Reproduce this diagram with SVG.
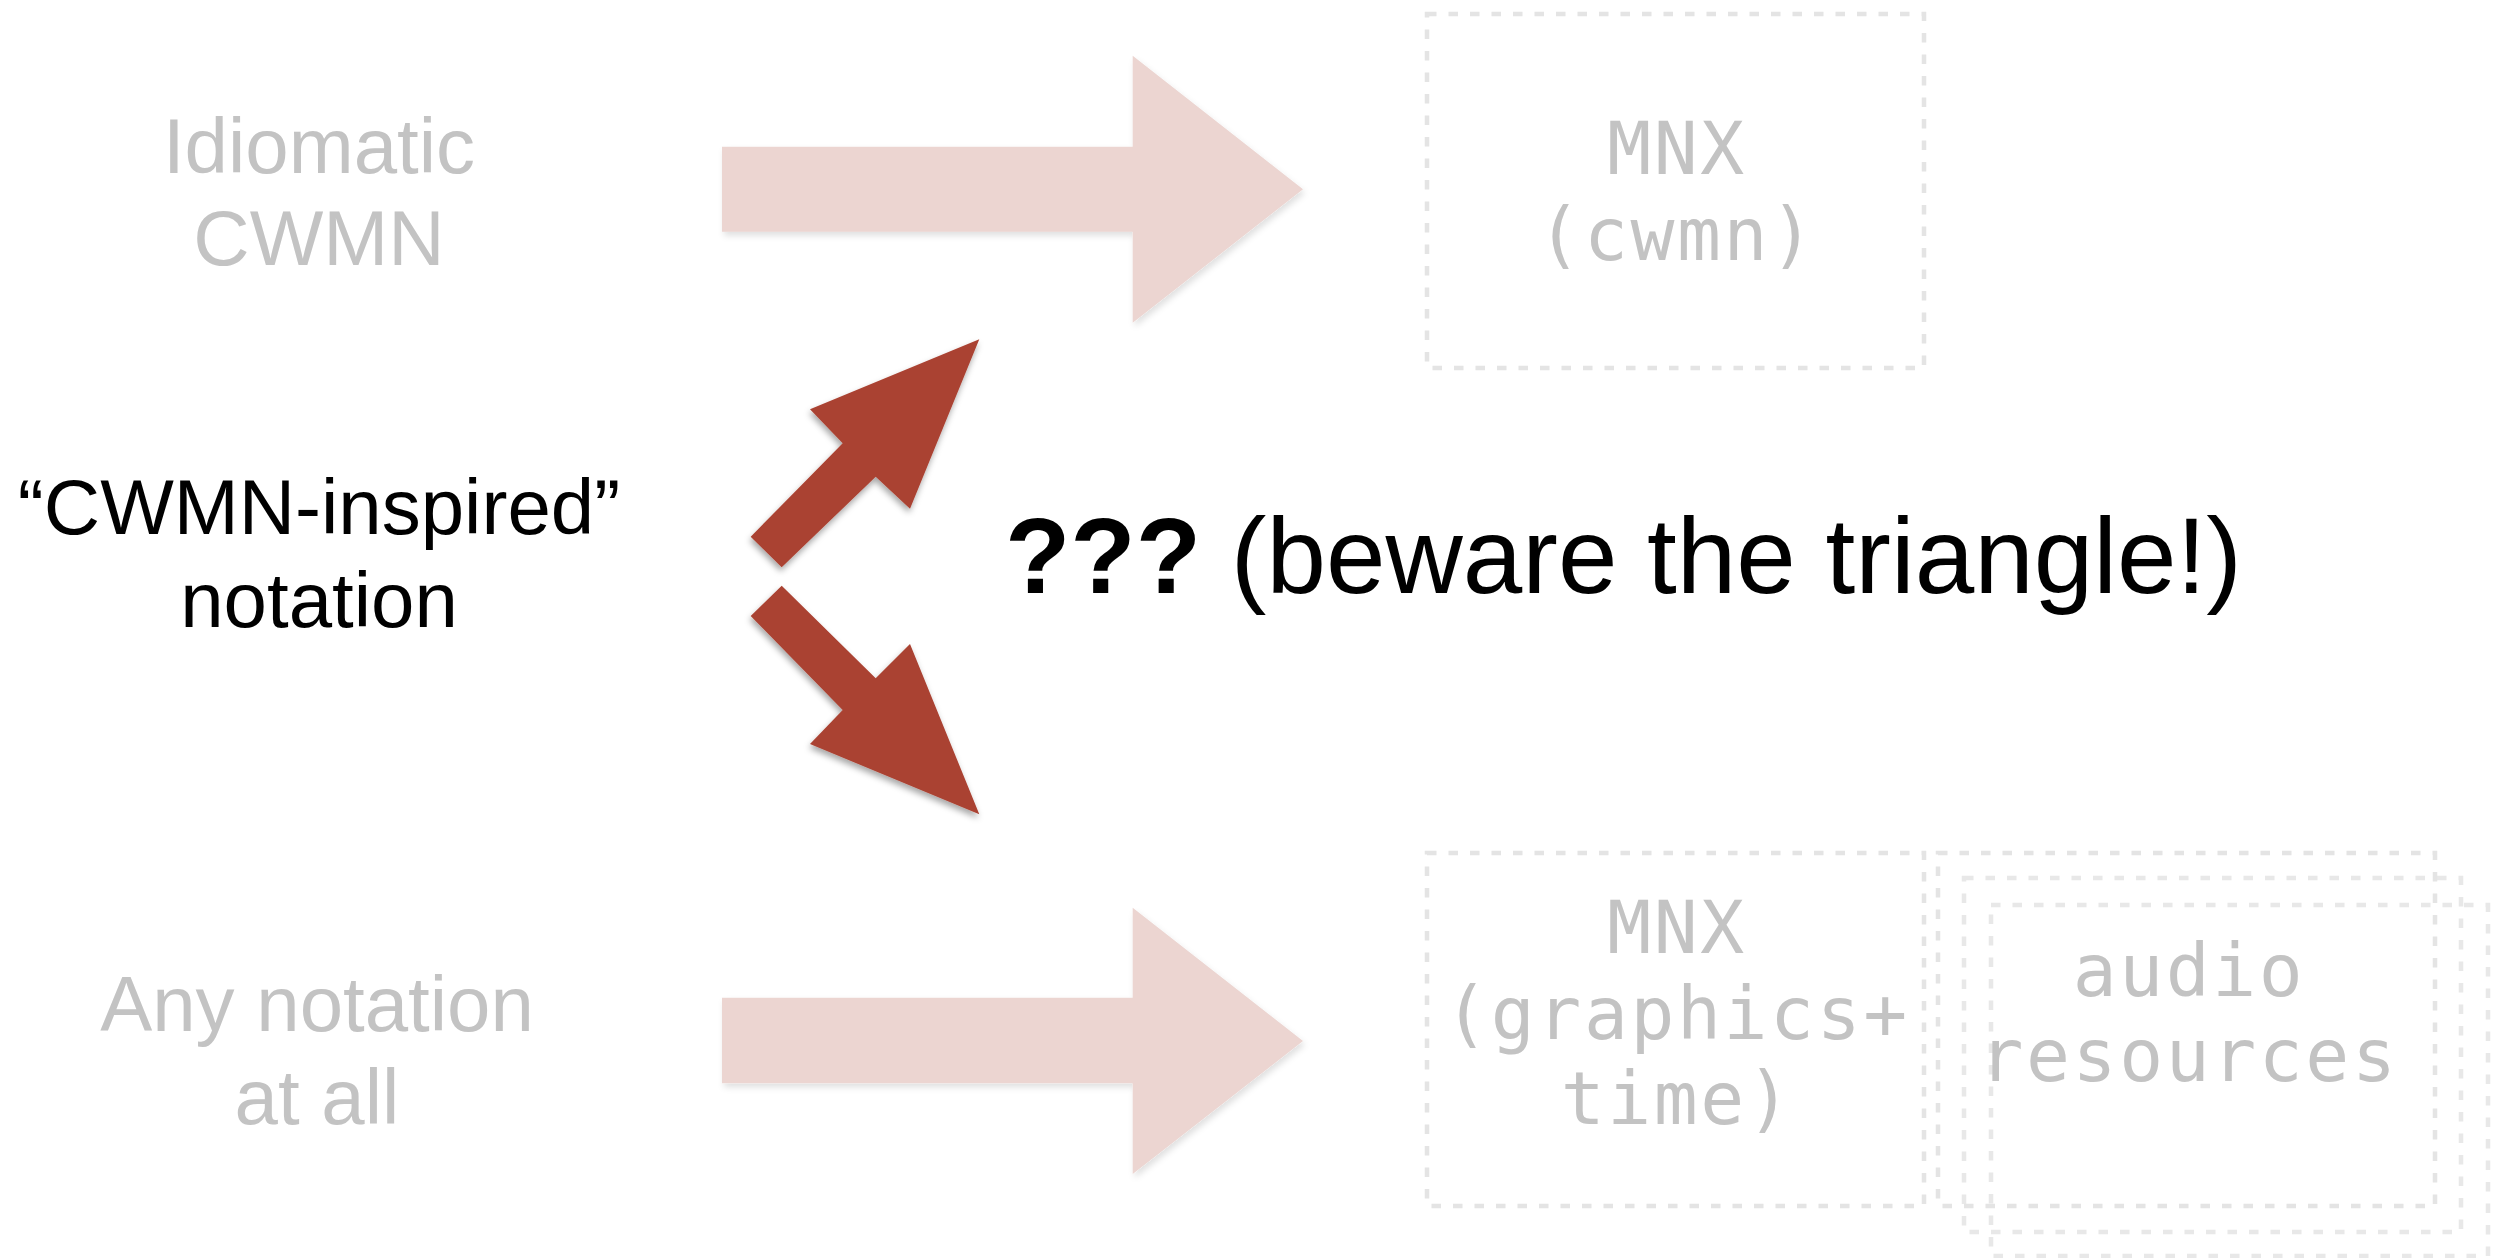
<svg xmlns="http://www.w3.org/2000/svg" width="2509" height="1258" viewBox="0 0 2509 1258">
  <style>
    .lbl { font-family: "Liberation Sans", Arial, sans-serif; font-size: 78px; text-anchor: middle; }
    .dim { fill: #c3c3c3; }
    .dark { fill: #000000; }
    .mono { font-family: "DejaVu Sans Mono", "Liberation Mono", monospace; font-size: 73px; fill: #c3c3c3; text-anchor: middle; letter-spacing: 2.6px; }
    .box { fill: none; stroke: #e4e4e4; stroke-width: 4.5; stroke-dasharray: 9.5 12; }
    .box-back { fill: none; stroke: #e8e8e8; stroke-width: 4.5; stroke-dasharray: 9.5 12; }
    .pale { fill: #ecd5d1; filter: url(#softShadow); }
    .red { fill: #aa4232; filter: url(#redShadow); }
    .center { font-family: "Liberation Sans", Arial, sans-serif; font-size: 107px; fill: #000000; }
  </style>
  <defs>
    <filter id="softShadow" x="-10%" y="-10%" width="120%" height="130%">
      <feDropShadow dx="2" dy="4" stdDeviation="3" flood-color="#000000" flood-opacity="0.12"/>
    </filter>
    <filter id="redShadow" x="-20%" y="-20%" width="140%" height="140%">
      <feDropShadow dx="-1" dy="4" stdDeviation="3" flood-color="#000000" flood-opacity="0.35"/>
    </filter>
  </defs>
  <rect x="0" y="0" width="2509" height="1258" fill="#ffffff"/>

  <g id="connectors">
    <polygon class="pale" points="722,146.7 1132.7,146.7 1132.7,55.7 1303,189.3 1132.7,322.7 1132.7,231.7 722,231.7"/>
    <polygon class="pale" points="722,997.7 1132.7,997.7 1132.7,907.7 1303,1041 1132.7,1174 1132.7,1083.3 722,1083.3"/>
    <polygon class="red" points="750.7,536.7 781.7,567.3 875.7,476.7 910,508.7 979.3,339.3 810,409.3 842.7,443.3"/>
    <polygon class="red" points="750.7,616 781.7,585.7 875.7,678.3 910,644 979.3,814.3 810,744 842.7,710"/>
  </g>

  <g id="idiomatic-cwmn">
    <text class="lbl dim" x="319" y="172.5">Idiomatic</text>
    <text class="lbl dim" x="319" y="265">CWMN</text>
  </g>

  <g id="cwmn-inspired">
    <text class="lbl dark" x="319" y="534">“CWMN-inspired”</text>
    <text class="lbl dark" x="319" y="627">notation</text>
  </g>

  <g id="any-notation">
    <text class="lbl dim" x="317" y="1031">Any notation</text>
    <text class="lbl dim" x="317" y="1124">at all</text>
  </g>

  <g id="question">
    <text class="center" x="1005" y="593"><tspan font-weight="bold">???</tspan> (beware the triangle!)</text>
  </g>

  <g id="mnx-cwmn">
    <rect class="box" x="1427" y="14" width="497" height="354"/>
    <text class="mono" x="1677" y="174">MNX</text>
    <text class="mono" x="1677" y="260">(cwmn)</text>
  </g>

  <g id="mnx-graphics-time">
    <rect class="box" x="1427" y="853" width="497" height="353"/>
    <text class="mono" x="1677" y="953">MNX</text>
    <text class="mono" x="1677" y="1039">(graphics+</text>
    <text class="mono" x="1677" y="1124">time)</text>
  </g>

  <g id="audio-resources">
    <rect class="box-back" x="1991" y="905" width="497" height="351"/>
    <rect class="box-back" x="1964" y="878" width="497" height="354"/>
    <rect class="box" x="1938" y="853" width="497" height="353"/>
    <text class="mono" x="2189" y="996">audio</text>
    <text class="mono" x="2189" y="1081">resources</text>
  </g>
</svg>
